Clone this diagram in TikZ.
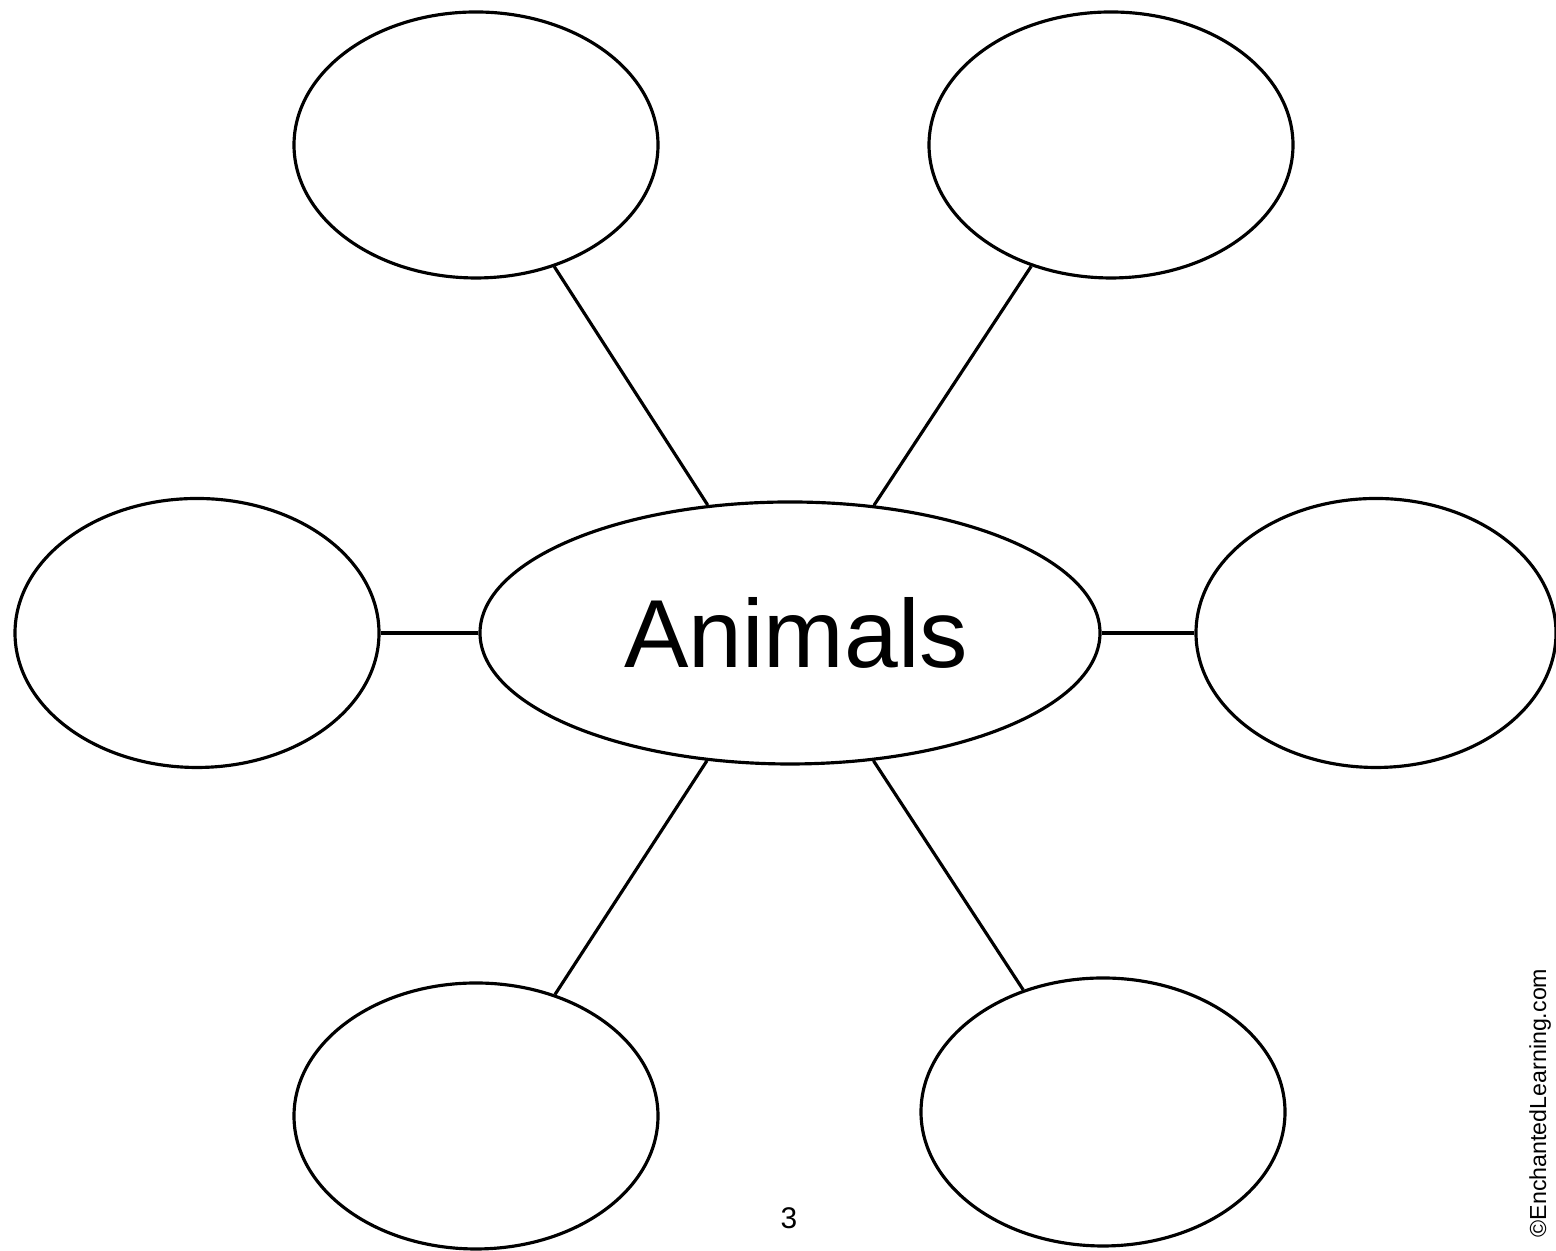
\documentclass[tikz,border=0pt]{standalone}
\usepackage{fontspec}
\setmainfont{Liberation Sans}
\usepackage{tikz}
\usetikzlibrary{shapes.geometric}

\begin{document}
\begin{tikzpicture}[line width=0.9pt,
	bubble/.style={ellipse,draw,inner sep=0pt,minimum width=3.64cm,minimum height=2.66cm}]
	\useasboundingbox (0,0) rectangle (15.56,12.51);

	\node[ellipse,draw,inner sep=0pt,minimum width=6.2cm,minimum height=2.62cm,font=\fontsize{27.5}{30}\selectfont] (animals) at (7.90,6.18) {\hspace{0.12cm}Animals};

	\node[bubble] (nwbubble) at (4.76,11.06) {};
	\node[bubble] (nebubble) at (11.11,11.06) {};
	\node[bubble,minimum height=2.69cm] (wbubble) at (1.97,6.18) {};
	\node[bubble,minimum width=3.6cm,minimum height=2.69cm] (ebubble) at (13.76,6.18) {};
	\node[bubble] (swbubble) at (4.76,1.35) {};
	\node[bubble,minimum height=2.68cm] (sebubble) at (11.03,1.39) {};

	\draw (animals) -- (nwbubble);
	\draw (animals) -- (nebubble);
	\draw (animals) -- (wbubble);
	\draw (animals) -- (ebubble);
	\draw (animals) -- (swbubble);
	\draw (animals) -- (sebubble);

	\node[font=\fontsize{8.5}{10}\selectfont] (pagenum) at (7.89,0.33) {3};
	\node[rotate=90,font=\fontsize{6.6}{8}\selectfont] (credit) at (15.40,1.48) {©EnchantedLearning.com};
\end{tikzpicture}
\end{document}
